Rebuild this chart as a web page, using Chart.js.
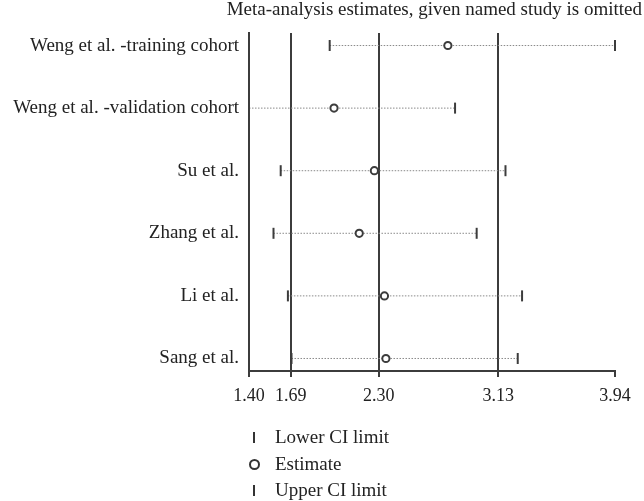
<!DOCTYPE html>
<html>
<head>
<meta charset="utf-8">
<script src="https://cdn.jsdelivr.net/npm/chart.js@4.4.1/dist/chart.umd.min.js"></script>
<style>
    html, body { margin: 0; padding: 0; background: #fff; }
    #wrap { position: relative; width: 644px; height: 501px; }
    #title { position: absolute; right: 2px; top: -2px; font-family: "Liberation Serif", serif; font-size: 19px; color: #222; white-space: nowrap; }
    #legend { position: absolute; left: 246px; top: 424px; font-family: "Liberation Serif", serif; font-size: 19px; color: #222; }
    #legend div { height: 26.5px; line-height: 26px; white-space: nowrap; }
    #legend .mk { display: inline-block; width: 18px; height: 26px; vertical-align: top; position: relative; margin-right: 11px; }
    #legend .bar { position: absolute; left: 7px; top: 8px; width: 2px; height: 11px; background: #333; }
    #legend .circ { position: absolute; left: 3px; top: 8px; width: 7px; height: 7px; border: 2px solid #333; border-radius: 50%; }
</style>
</head>
<body>
<div id="wrap">
    <canvas id="myChart"></canvas>
    <div id="title">Meta-analysis estimates, given named study is omitted</div>
    <div id="legend"></div>
</div>
<script>
// studies omitted one at a time
var studies = ['Weng et al. -training cohort', 'Weng et al. -validation cohort', 'Su et al.', 'Zhang et al.', 'Li et al.', 'Sang et al.'];
var estimate = [2.78, 1.99, 2.27, 2.165, 2.34, 2.35];
var lowerCI = [1.96, 1.40, 1.62, 1.57, 1.67, 1.695];
var upperCI = [3.94, 2.83, 3.18, 2.98, 3.295, 3.265];
var xTicks = [1.40, 1.69, 2.30, 3.13, 3.94];

var dark = '#3c3c3c';
var datasets = [];

datasets.push({
    type: 'scatter', label: 'Estimate',
    data: estimate.map(function (v, i) { return {x: v, y: i}; }),
    pointStyle: 'circle', pointRadius: 3.6, borderWidth: 2,
    borderColor: dark, backgroundColor: '#fff', clip: false
});
datasets.push({
    type: 'scatter', label: 'Lower CI limit',
    data: lowerCI.map(function (v, i) { return {x: v, y: i}; }),
    pointStyle: 'line', rotation: 90, pointRadius: 5.5, borderWidth: 2,
    borderColor: dark, clip: false
});
datasets.push({
    type: 'scatter', label: 'Upper CI limit',
    data: upperCI.map(function (v, i) { return {x: v, y: i}; }),
    pointStyle: 'line', rotation: 90, pointRadius: 5.5, borderWidth: 2,
    borderColor: dark, clip: false
});
// dotted interval lines
studies.forEach(function (s, i) {
    datasets.push({
        type: 'line', label: s,
        data: [{x: lowerCI[i], y: i}, {x: upperCI[i], y: i}],
        borderColor: '#8a8a8a', borderWidth: 1, borderDash: [1.5, 1.5],
        pointRadius: 0, fill: false, clip: false
    });
});

Chart.defaults.font.family = '"Liberation Serif", serif';
Chart.defaults.color = '#222';

var chart = new Chart(document.getElementById('myChart'), {
    type: 'scatter',
    data: {datasets: datasets},
    options: {
        responsive: true,
        maintainAspectRatio: false,
        animation: false,
        layout: {padding: {left: 0, right: 29, top: 33, bottom: 0}},
        plugins: {
            legend: {display: false},
            tooltip: {enabled: false}
        },
        scales: {
            x: {
                type: 'linear', min: 1.40, max: 3.94,
                afterBuildTicks: function (scale) {
                    scale.ticks = xTicks.map(function (v) { return {value: v}; });
                },
                afterFit: function (scale) { scale.height = 130; },
                ticks: {
                    font: {size: 18}, color: '#222', padding: 8,
                    callback: function (v) { return Number(v).toFixed(2); }
                },
                grid: {
                    lineWidth: 2,
                    color: function (ctx) {
                        return (ctx.tick && ctx.tick.value === 3.94) ? 'rgba(0,0,0,0)' : dark;
                    },
                    tickColor: dark,
                    tickLength: 6
                },
                border: {display: true, color: dark, width: 2}
            },
            y: {
                type: 'linear', min: -0.2, max: 5.2, reverse: true,
                afterBuildTicks: function (scale) {
                    scale.ticks = studies.map(function (s, i) { return {value: i}; });
                },
                afterFit: function (scale) { scale.width = 249; },
                ticks: {
                    font: {size: 19}, color: '#222', padding: 2,
                    callback: function (v) { return studies[v]; }
                },
                grid: {display: false},
                border: {display: true, color: dark, width: 2}
            }
        }
    }
});

// legend under the axis
var legendItems = [
    {label: 'Lower CI limit', mk: 'bar'},
    {label: 'Estimate', mk: 'circ'},
    {label: 'Upper CI limit', mk: 'bar'}
];
var lg = document.getElementById('legend');
legendItems.forEach(function (it) {
    var row = document.createElement('div');
    row.innerHTML = '<span class="mk"><span class="' + it.mk + '"></span></span>' + it.label;
    lg.appendChild(row);
});
</script>
</body>
</html>
